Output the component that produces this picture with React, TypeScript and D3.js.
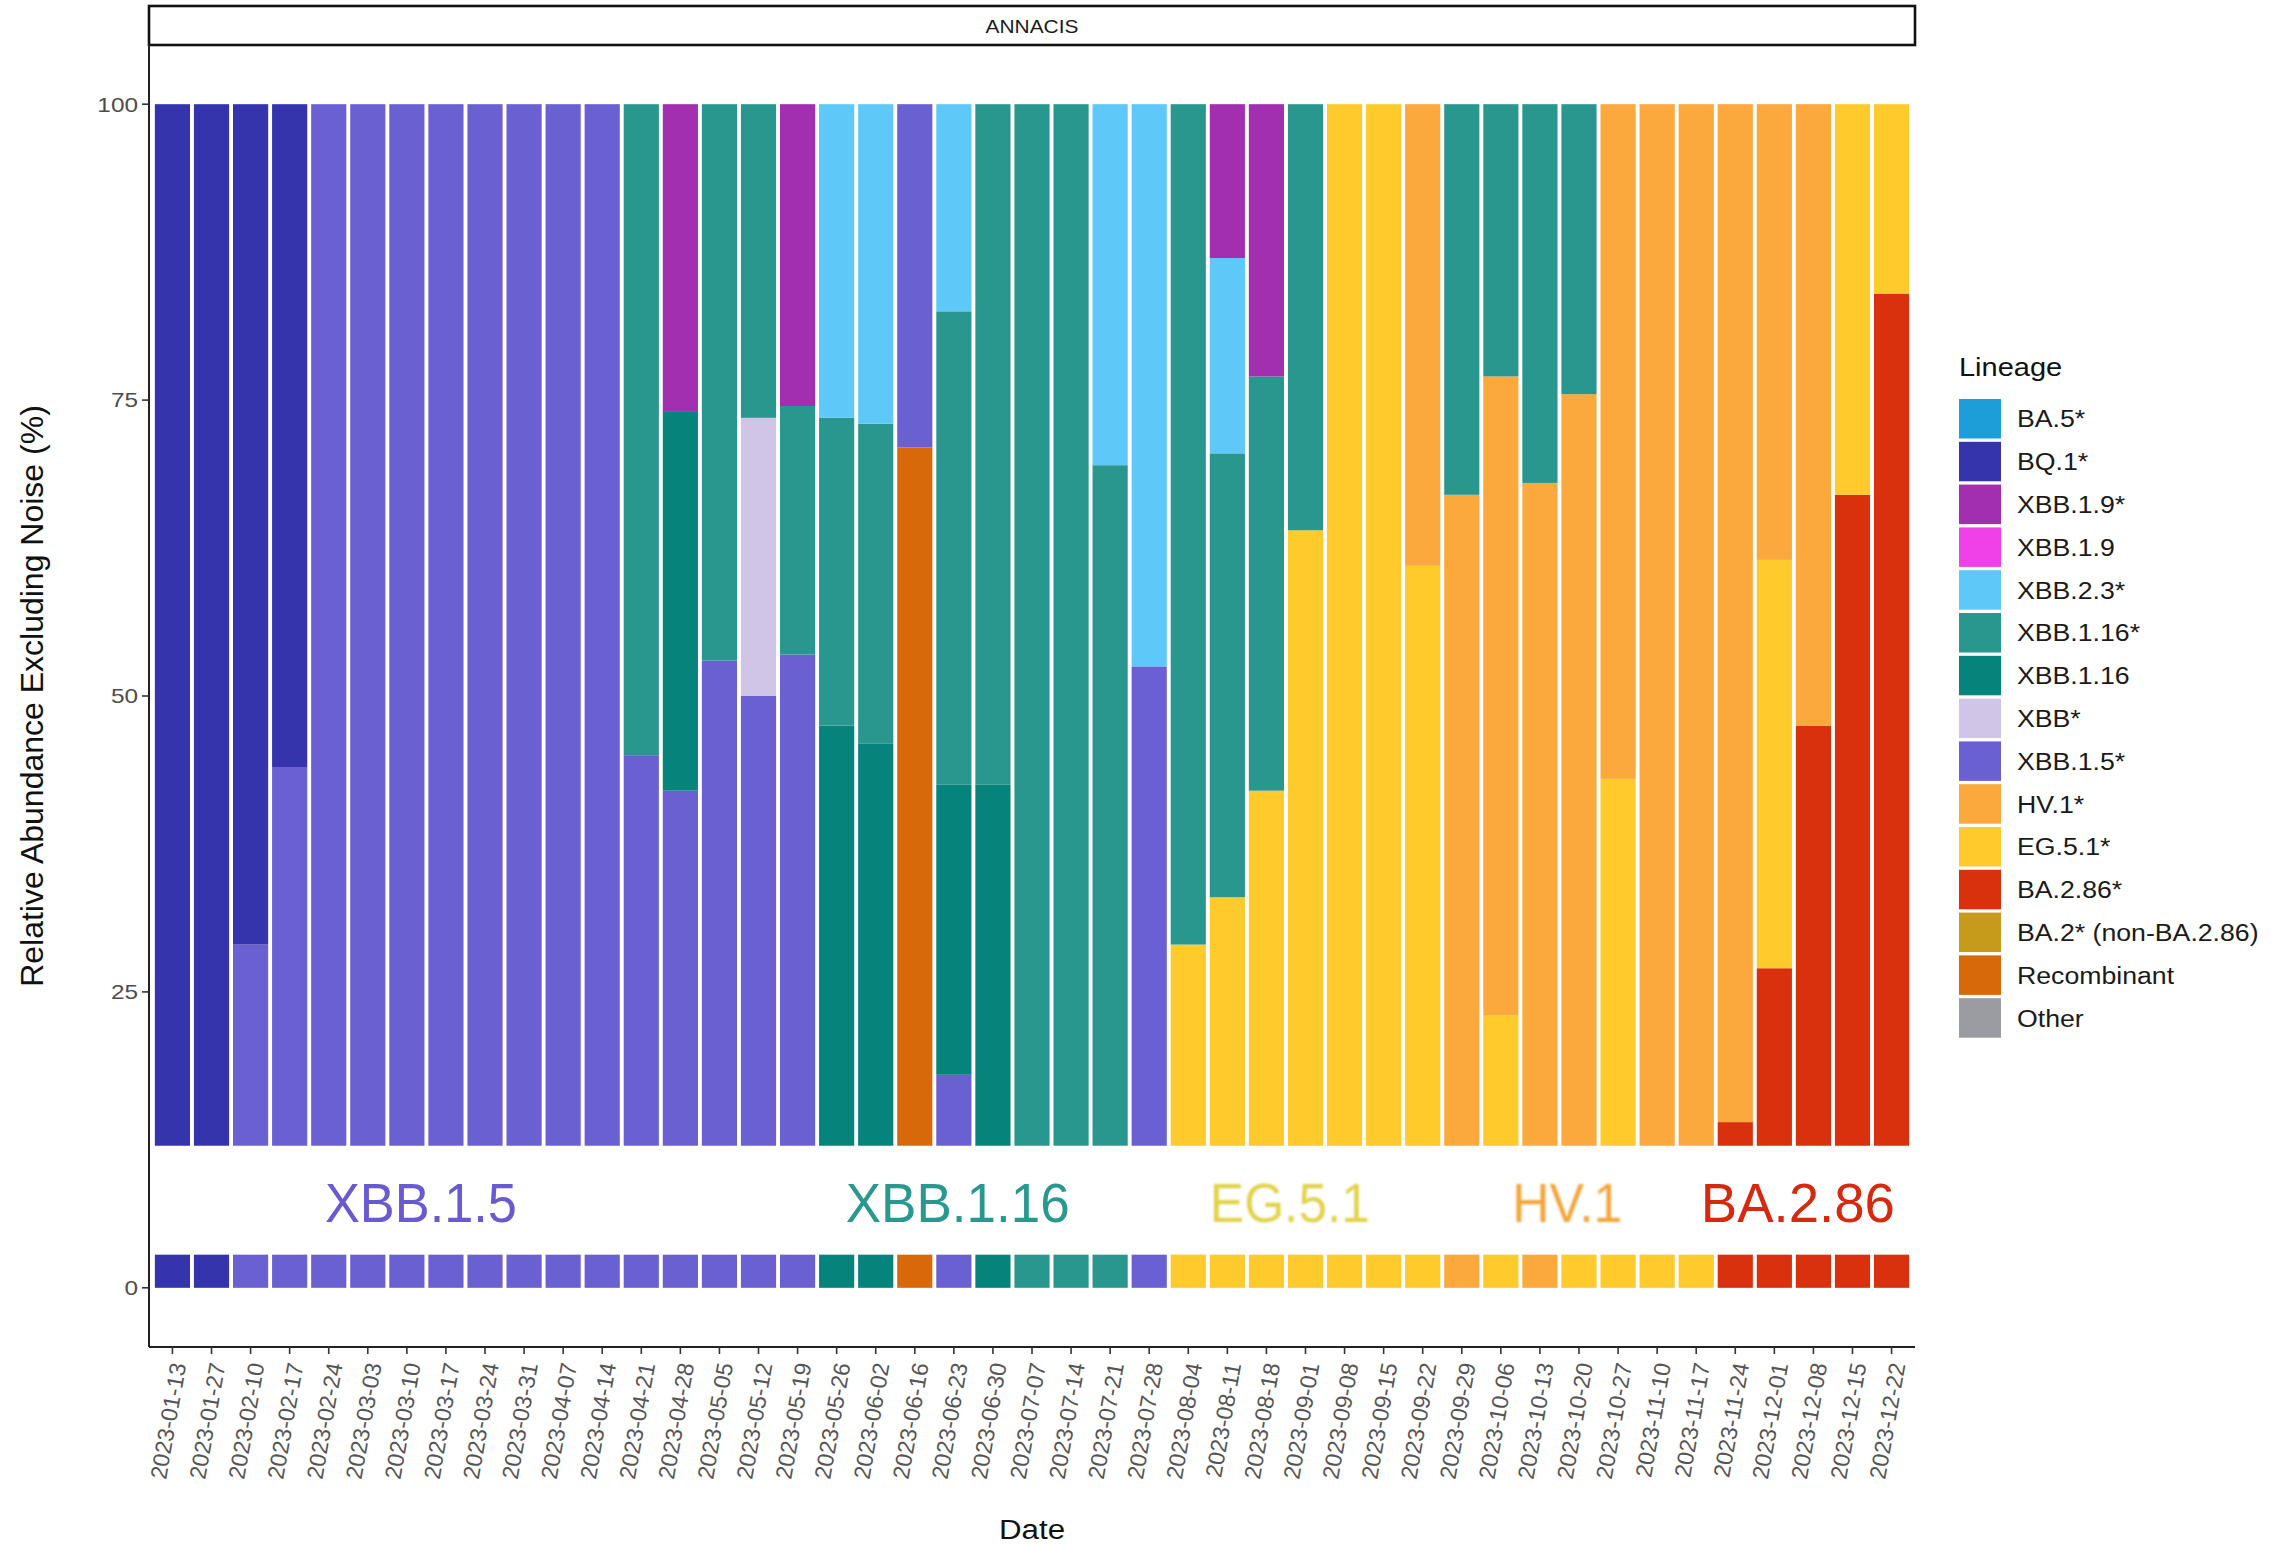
import React from "react";
import * as d3 from "d3";

// Sampling dates (weekly/biweekly wastewater samples)
const dates = [
  "2023-01-13", "2023-01-27", "2023-02-10", "2023-02-17", "2023-02-24", "2023-03-03",
  "2023-03-10", "2023-03-17", "2023-03-24", "2023-03-31", "2023-04-07", "2023-04-14",
  "2023-04-21", "2023-04-28", "2023-05-05", "2023-05-12", "2023-05-19", "2023-05-26",
  "2023-06-02", "2023-06-16", "2023-06-23", "2023-06-30", "2023-07-07", "2023-07-14",
  "2023-07-21", "2023-07-28", "2023-08-04", "2023-08-11", "2023-08-18", "2023-09-01",
  "2023-09-08", "2023-09-15", "2023-09-22", "2023-09-29", "2023-10-06", "2023-10-13",
  "2023-10-20", "2023-10-27", "2023-11-10", "2023-11-17", "2023-11-24", "2023-12-01",
  "2023-12-08", "2023-12-15", "2023-12-22",
];

// Legend order (first level is drawn on top of each stack)
const lineages = [
  "BA.5*", "BQ.1*", "XBB.1.9*", "XBB.1.9", "XBB.2.3*", "XBB.1.16*", "XBB.1.16", "XBB*",
  "XBB.1.5*", "HV.1*", "EG.5.1*", "BA.2.86*", "BA.2* (non-BA.2.86)", "Recombinant", "Other",
];

const lineageColors = [
  "#1E9ED8", "#3634AC", "#A12FB0", "#F040E8", "#5EC8F8", "#2A978F", "#06837B", "#D0C5E6",
  "#6A60D2", "#FBA83D", "#FFCA2B", "#D9300E", "#C69A1A", "#D8690B", "#9A9CA2",
];

// Relative abundance (%) per lineage, one value per date
const valBA5 = Array(45).fill(0);
const valBQ1 = [100, 100, 71, 56, 0, 0, 0, 0, 0, 0, 0, 0, 0, 0, 0, 0, 0, 0, 0, 0, 0, 0, 0, 0, 0, 0, 0, 0, 0, 0, 0, 0, 0, 0, 0, 0, 0, 0, 0, 0, 0, 0, 0, 0, 0];
const valXBB19s = [0, 0, 0, 0, 0, 0, 0, 0, 0, 0, 0, 0, 0, 26, 0, 0, 25.5, 0, 0, 0, 0, 0, 0, 0, 0, 0, 0, 13, 23, 0, 0, 0, 0, 0, 0, 0, 0, 0, 0, 0, 0, 0, 0, 0, 0];
const valXBB19 = Array(45).fill(0);
const valXBB23 = [0, 0, 0, 0, 0, 0, 0, 0, 0, 0, 0, 0, 0, 0, 0, 0, 0, 26.5, 27, 0, 17.5, 0, 0, 0, 30.5, 47.5, 0, 16.5, 0, 0, 0, 0, 0, 0, 0, 0, 0, 0, 0, 0, 0, 0, 0, 0, 0];
const valXBB116s = [0, 0, 0, 0, 0, 0, 0, 0, 0, 0, 0, 0, 55, 0, 47, 26.5, 21, 26, 27, 0, 40, 57.5, 100, 100, 69.5, 0, 71, 37.5, 35, 36, 0, 0, 0, 33, 23, 32, 24.5, 0, 0, 0, 0, 0, 0, 0, 0];
const valXBB116 = [0, 0, 0, 0, 0, 0, 0, 0, 0, 0, 0, 0, 0, 32, 0, 0, 0, 47.5, 46, 0, 24.5, 42.5, 0, 0, 0, 0, 0, 0, 0, 0, 0, 0, 0, 0, 0, 0, 0, 0, 0, 0, 0, 0, 0, 0, 0];
const valXBB = [0, 0, 0, 0, 0, 0, 0, 0, 0, 0, 0, 0, 0, 0, 0, 23.5, 0, 0, 0, 0, 0, 0, 0, 0, 0, 0, 0, 0, 0, 0, 0, 0, 0, 0, 0, 0, 0, 0, 0, 0, 0, 0, 0, 0, 0];
const valXBB15 = [0, 0, 29, 44, 100, 100, 100, 100, 100, 100, 100, 100, 45, 42, 53, 50, 53.5, 0, 0, 29, 18, 0, 0, 0, 0, 52.5, 0, 0, 0, 0, 0, 0, 0, 0, 0, 0, 0, 0, 0, 0, 0, 0, 0, 0, 0];
const valHV1 = [0, 0, 0, 0, 0, 0, 0, 0, 0, 0, 0, 0, 0, 0, 0, 0, 0, 0, 0, 0, 0, 0, 0, 0, 0, 0, 0, 0, 0, 0, 0, 0, 39, 67, 54, 68, 75.5, 57, 100, 100, 86, 38.5, 52.5, 0, 0];
const valEG51 = [0, 0, 0, 0, 0, 0, 0, 0, 0, 0, 0, 0, 0, 0, 0, 0, 0, 0, 0, 0, 0, 0, 0, 0, 0, 0, 29, 33, 42, 64, 100, 100, 61, 0, 23, 0, 0, 43, 0, 0, 0, 34.5, 0, 33, 16];
const valBA286 = [0, 0, 0, 0, 0, 0, 0, 0, 0, 0, 0, 0, 0, 0, 0, 0, 0, 0, 0, 0, 0, 0, 0, 0, 0, 0, 0, 0, 0, 0, 0, 0, 0, 0, 0, 0, 0, 0, 0, 0, 14, 27, 47.5, 67, 84];
const valBA2 = Array(45).fill(0);
const valRecomb = [0, 0, 0, 0, 0, 0, 0, 0, 0, 0, 0, 0, 0, 0, 0, 0, 0, 0, 0, 71, 0, 0, 0, 0, 0, 0, 0, 0, 0, 0, 0, 0, 0, 0, 0, 0, 0, 0, 0, 0, 0, 0, 0, 0, 0];
const valOther = Array(45).fill(0);

const seriesValues = [
  valBA5, valBQ1, valXBB19s, valXBB19, valXBB23, valXBB116s, valXBB116, valXBB,
  valXBB15, valHV1, valEG51, valBA286, valBA2, valRecomb, valOther,
];

// Dominant lineage tile per date
const tileLineage = [
  "BQ.1*", "BQ.1*",
  "XBB.1.5*", "XBB.1.5*", "XBB.1.5*", "XBB.1.5*", "XBB.1.5*", "XBB.1.5*", "XBB.1.5*", "XBB.1.5*",
  "XBB.1.5*", "XBB.1.5*", "XBB.1.5*", "XBB.1.5*", "XBB.1.5*", "XBB.1.5*", "XBB.1.5*",
  "XBB.1.16", "XBB.1.16", "Recombinant", "XBB.1.5*", "XBB.1.16", "XBB.1.16*", "XBB.1.16*", "XBB.1.16*",
  "XBB.1.5*",
  "EG.5.1*", "EG.5.1*", "EG.5.1*", "EG.5.1*", "EG.5.1*", "EG.5.1*", "EG.5.1*",
  "HV.1*", "EG.5.1*", "HV.1*", "EG.5.1*", "EG.5.1*", "EG.5.1*", "EG.5.1*",
  "BA.2.86*", "BA.2.86*", "BA.2.86*", "BA.2.86*", "BA.2.86*",
];

// Period annotations
const periodNames = ["XBB.1.5", "XBB.1.16", "EG.5.1", "HV.1", "BA.2.86"];
const periodColors = ["#6A5ACF", "#2A988E", "#E2D24C", "#F3A53A", "#D52A10"];

const yTicks = [0, 25, 50, 75, 100];

// ---- layout ----
const W = 2275;
const H = 1545;
const panelL = 149;
const panelR = 1915;
const panelT = 45;
const panelB = 1347;
const stripT = 6;
const FONT = "'Liberation Sans', Arial, Helvetica, sans-serif";
const barFloor = 12; // lower limit of the stacked bars
const tileTop = 2.8;
const periodCenters = [6.36, 20.1, 28.6, 35.7, 41.6]; // in band-index units
const periodWidths = [192, 224, 160, 110, 194];
const periodBaseline = 5.6;

export default function App() {
  const x = d3
    .scaleBand<string>()
    .domain(dates)
    .range([panelL, panelR])
    .paddingInner(0.1)
    .paddingOuter(0.15);
  const y = d3.scaleLinear().domain([-5, 105]).range([panelB, panelT]);
  const color = d3.scaleOrdinal<string, string>().domain(lineages).range(lineageColors);

  const rows = dates.map((d, i) => {
    const r: Record<string, any> = { date: d };
    lineages.forEach((l, k) => (r[l] = seriesValues[k][i]));
    return r;
  });
  const stackKeys = lineages.slice().reverse();
  const stacked = d3.stack<any>().keys(stackKeys)(rows);

  const step = x.step();
  const bandStart = (x(dates[0]) as number);
  const centerAt = (idx: number) => bandStart + x.bandwidth() / 2 + idx * step;

  const legendX = 1959;
  const legendY0 = 399;
  const legendStep = 42.8;
  const sx = 1.16;

  return (
    <svg
      width={W}
      height={H}
      viewBox={`0 0 ${W} ${H}`}
      style={{ position: "absolute", left: 0, top: 0, background: "#fff" }}
      fontFamily={FONT}
    >
      <defs>
        <clipPath id="barClip">
          <rect x={panelL} y={y(100) - 1} width={panelR - panelL} height={y(barFloor) - y(100) + 1} />
        </clipPath>
        <filter id="soft" x="-10%" y="-20%" width="120%" height="140%">
          <feGaussianBlur stdDeviation="1.3" />
        </filter>
      </defs>
      <rect x={0} y={0} width={W} height={H} fill="#fff" />

      {/* facet strip */}
      <rect x={panelL} y={stripT} width={panelR - panelL} height={panelT - stripT} fill="#fff" stroke="#111" strokeWidth={2.6} />
      <text
        transform={`translate(${(panelL + panelR) / 2},${33}) scale(${sx},1)`}
        textAnchor="middle"
        fontSize={18}
        fill="#1a1a1a"
      >
        ANNACIS
      </text>

      {/* stacked bars */}
      <g clipPath="url(#barClip)">
        {stacked.map((layer) => (
          <g key={layer.key} fill={color(layer.key)}>
            {layer.map((seg, i) =>
              seg[1] - seg[0] > 0 ? (
                <rect
                  key={i}
                  x={x(dates[i])}
                  width={x.bandwidth()}
                  y={y(seg[1])}
                  height={y(seg[0]) - y(seg[1])}
                />
              ) : null
            )}
          </g>
        ))}
      </g>

      {/* period labels */}
      {periodNames.map((p, i) => (
        <text
          key={p}
          x={centerAt(periodCenters[i])}
          y={y(periodBaseline)}
          textAnchor="middle"
          fontSize={56}
          fill={periodColors[i]}
          textLength={periodWidths[i]}
          lengthAdjust="spacingAndGlyphs"
          filter={i === 2 || i === 3 ? "url(#soft)" : undefined}
        >
          {p}
        </text>
      ))}

      {/* dominant lineage tiles */}
      {tileLineage.map((l, i) => (
        <rect
          key={i}
          x={x(dates[i])}
          width={x.bandwidth()}
          y={y(tileTop)}
          height={y(0) - y(tileTop)}
          fill={color(l)}
        />
      ))}

      {/* axes */}
      <line x1={panelL} x2={panelL} y1={panelT} y2={panelB} stroke="#222" strokeWidth={2} />
      <line x1={panelL} x2={panelR} y1={panelB} y2={panelB} stroke="#222" strokeWidth={2} />
      {yTicks.map((t) => (
        <g key={t}>
          <line x1={panelL - 7} x2={panelL} y1={y(t)} y2={y(t)} stroke="#333" strokeWidth={1.6} />
          <text
            transform={`translate(${panelL - 11},${y(t)}) scale(${sx},1)`}
            textAnchor="end"
            dominantBaseline="central"
            fontSize={21}
            fill="#4d4d4d"
          >
            {t}
          </text>
        </g>
      ))}
      {dates.map((d) => {
        const cx = (x(d) as number) + x.bandwidth() / 2;
        return (
          <g key={d}>
            <line x1={cx} x2={cx} y1={panelB} y2={panelB + 7} stroke="#333" strokeWidth={1.6} />
            <text
              transform={`translate(${cx + 6},${panelB + 16}) rotate(-80)`}
              textAnchor="end"
              dominantBaseline="central"
              fontSize={23}
              fill="#555"
            >
              {d}
            </text>
          </g>
        );
      })}

      {/* axis titles */}
      <text
        transform={`translate(32,${(panelT + panelB) / 2}) rotate(-90)`}
        textAnchor="middle"
        dominantBaseline="central"
        fontSize={32}
        fill="#111"
      >
        Relative Abundance Excluding Noise (%)
      </text>
      <text
        transform={`translate(${(panelL + panelR) / 2},1539) scale(${sx},1)`}
        textAnchor="middle"
        fontSize={27}
        fill="#111"
      >
        Date
      </text>

      {/* legend */}
      <text transform={`translate(${legendX},376) scale(${sx},1)`} fontSize={25} fill="#111">
        Lineage
      </text>
      {lineages.map((l, i) => {
        const ky = legendY0 + i * legendStep;
        return (
          <g key={l}>
            <rect x={legendX} y={ky} width={42} height={39.5} fill={color(l)} />
            <text
              transform={`translate(${legendX + 58},${ky + 20}) scale(${sx},1)`}
              dominantBaseline="central"
              fontSize={23}
              fill="#1a1a1a"
            >
              {l}
            </text>
          </g>
        );
      })}
    </svg>
  );
}
